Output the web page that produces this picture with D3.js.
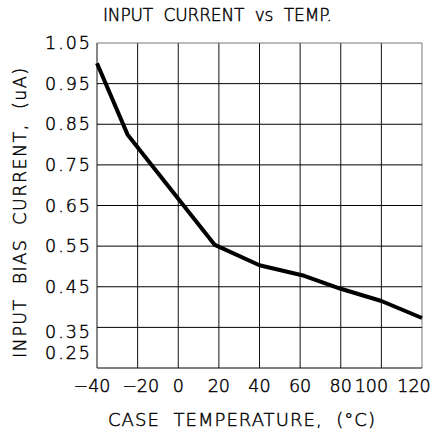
<!DOCTYPE html>
<html>
<head>
<meta charset="utf-8">
<script src="https://cdn.jsdelivr.net/npm/d3@7"></script>
<style>
  html, body { margin: 0; padding: 0; background: #fff; }
  text { font-family: "DejaVu Sans", sans-serif; font-weight: 200; fill: #000; stroke: #000; stroke-width: 0.45px; white-space: pre; }
</style>
</head>
<body>
<svg id="chart" width="438" height="438"></svg>
<script>
// curve
const temps = [-40, -25, 18, 40, 62, 80, 100, 120];
const biasCurrent = [1.0, 0.825, 0.553, 0.503, 0.477, 0.445, 0.415, 0.373];

const xTicks = [-40, -20, 0, 20, 40, 60, 80, 100, 120];
const yTicks = [0.25, 0.35, 0.45, 0.55, 0.65, 0.75, 0.85, 0.95, 1.05];

const title = 'INPUT  CURRENT  vs  TEMP.';
const xTitle = 'CASE  TEMPERATURE,  (°C)';
const yTitle = 'INPUT  BIAS  CURRENT,  (uA)';

let svg = d3.select('#chart');

let x = d3.scaleLinear()
	.domain([-40, 120])
	.range([97, 422]);

let y = d3.scaleLinear()
	.domain([0.25, 1.05])
	.range([368, 43]);

// label nudges so the crowded ones don't collide
const xNudge = {'-40': -5, '-20': 3, '100': -10, '120': -8};
const yNudge = {'0.25': -15, '0.35': 4};

let grid = svg.append('g').attr('class', 'grid');

grid.selectAll('line.v')
	.data(xTicks)
	.enter()
	.append('line')
	.attr('class', 'v')
	.attr('x1', d => x(d))
	.attr('x2', d => x(d))
	.attr('y1', y(1.05))
	.attr('y2', y(0.25))
	.attr('stroke', d => (d == 120 ? '#777' : '#111'))
	.attr('stroke-width', 1);

grid.selectAll('line.h')
	.data(yTicks)
	.enter()
	.append('line')
	.attr('class', 'h')
	.attr('x1', x(-40))
	.attr('x2', x(120))
	.attr('y1', d => y(d))
	.attr('y2', d => y(d))
	.attr('stroke', d => (d == 1.05 ? '#777' : '#000'))
	.attr('stroke-width', 1);

// tick labels
svg.append('g')
	.selectAll('text')
	.data(xTicks)
	.enter()
	.append('text')
	.attr('x', d => x(d) + (xNudge[d] || 0))
	.attr('y', 392)
	.attr('text-anchor', 'middle')
	.style('font-size', '17.5px')
	.text(d => (d < 0 ? '\u2212' + Math.abs(d) : d));

svg.append('g')
	.selectAll('text')
	.data(yTicks)
	.enter()
	.append('text')
	.attr('x', 92)
	.attr('y', d => y(d) + (yNudge[d.toFixed(2)] || 0))
	.attr('dy', '0.35em')
	.attr('text-anchor', 'end')
	.style('font-size', '17.5px')
	.style('letter-spacing', '2px')
	.text(d => d.toFixed(2));

// curve
let line = d3.line()
	.x((d, i) => x(temps[i]))
	.y(d => y(d));

svg.append('path')
	.datum(biasCurrent)
	.attr('d', line)
	.attr('fill', 'none')
	.attr('stroke', '#000')
	.attr('stroke-width', 4)
	.attr('stroke-linejoin', 'round');

// titles
svg.append('text')
	.attr('x', 103)
	.attr('y', 21)
	.attr('textLength', 229)
	.attr('lengthAdjust', 'spacing')
	.style('font-size', '17px')
	.text(title);

svg.append('text')
	.attr('x', 108)
	.attr('y', 426)
	.attr('textLength', 267)
	.attr('lengthAdjust', 'spacing')
	.style('font-size', '18px')
	.text(xTitle);

svg.append('text')
	.attr('transform', 'translate(25.5,358) rotate(-90)')
	.attr('x', 0)
	.attr('y', 0)
	.attr('textLength', 290)
	.attr('lengthAdjust', 'spacing')
	.style('font-size', '17.5px')
	.text(yTitle);
</script>
</body>
</html>
